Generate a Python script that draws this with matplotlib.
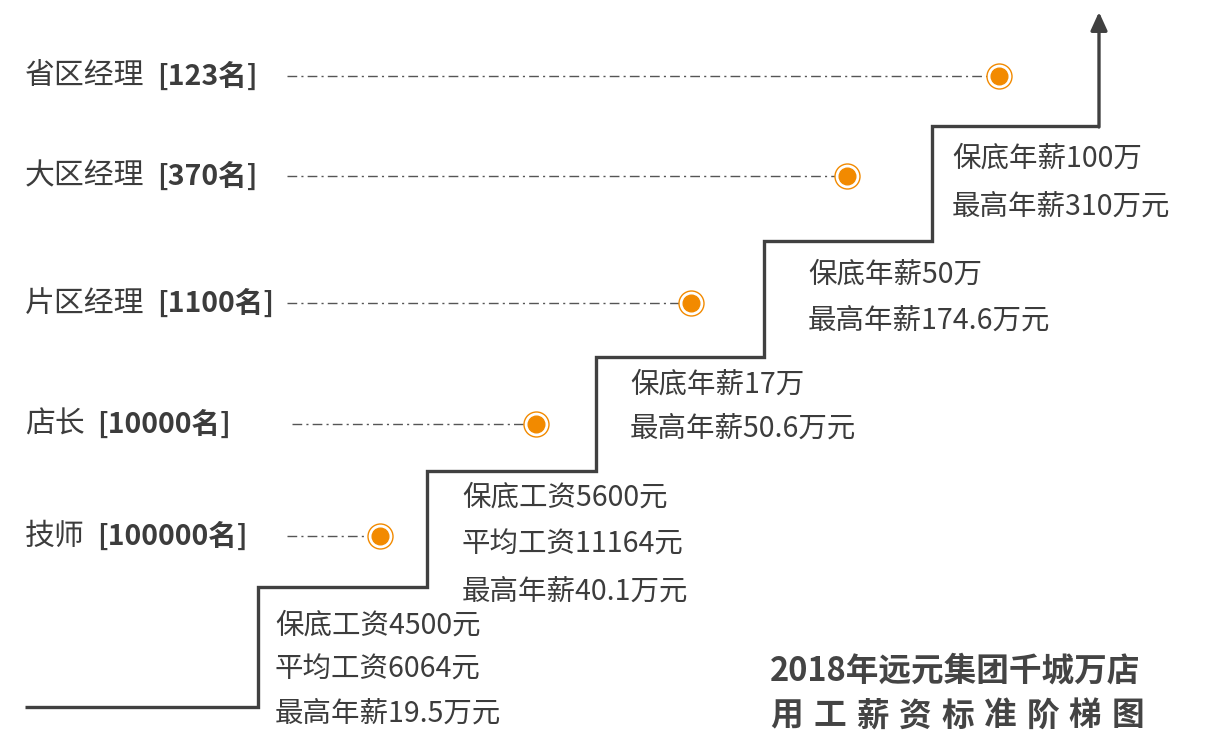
import matplotlib
matplotlib.use('Agg')
import matplotlib.pyplot as plt
from matplotlib.patches import FancyArrowPatch

plt.rcParams['font.family'] = ['Noto Sans CJK SC', 'DejaVu Sans']

# staircase (pixel grid of the reference, y grows downward)
step_x = [25, 258, 427, 596, 764, 932, 1099]
step_y = [707, 587, 471, 357, 241, 126]
arrow_top = 12

# position levels
roles = ['技师', '店长', '片区经理', '大区经理', '省区经理']
counts = ['[100000名]', '[10000名]', '[1100名]', '[370名]', '[123名]']
role_y = [536, 424, 303, 176, 76]
lead_x0 = [287, 292, 287, 287, 287]
dot_x = [380, 536, 691, 847, 999]

# salary notes on each step
notes = [
    ['保底工资4500元', '平均工资6064元', '最高年薪19.5万元'],
    ['保底工资5600元', '平均工资11164元', '最高年薪40.1万元'],
    ['保底年薪17万', '最高年薪50.6万元'],
    ['保底年薪50万', '最高年薪174.6万元'],
    ['保底年薪100万', '最高年薪310万元'],
]
note_x = [275, 462, 630, 808, 952]
note_y0 = [626, 498, 385, 275, 159]
note_gap = [44, 47, 44, 46, 48]

title1 = '2018年远元集团千城万店'
title2 = '用工薪资标准阶梯图'

TXT = '#3c3c3c'
ORANGE = '#f28a00'


def main():
    fig = plt.figure(figsize=(12.13, 7.34), dpi=100)
    ax = fig.add_axes([0, 0, 1, 1])
    ax.set_xlim(0, 1213)
    ax.set_ylim(734, 0)
    ax.axis('off')

    # stair line
    xs, ys = [step_x[0]], [step_y[0]]
    for i in range(len(step_y)):
        xs.append(step_x[i + 1]); ys.append(step_y[i])
        if i + 1 < len(step_y):
            xs.append(step_x[i + 1]); ys.append(step_y[i + 1])
    ax.plot(xs, ys, color='#404040', lw=2.4, solid_joinstyle='miter', solid_capstyle='butt')
    ax.add_patch(FancyArrowPatch((step_x[-1], step_y[-1] + 1), (step_x[-1], arrow_top),
                                 arrowstyle='-|>,head_length=0.55,head_width=0.25',
                                 mutation_scale=20, color='#404040', lw=2.4,
                                 shrinkA=0, shrinkB=0))

    # role labels, leaders and dots
    for r, c, y, x0, xd in zip(roles, counts, role_y, lead_x0, dot_x):
        t = ax.text(25, y, r, fontsize=21.5, color=TXT, va='center', ha='left')
        ax.annotate(c, xy=(1, 0.5), xycoords=t, xytext=(9, 0), textcoords='offset points',
                    fontsize=20.5, fontweight='bold', color=TXT, va='center', ha='left')
        ax.plot([x0, xd], [y, y], color='#555555', lw=1.0,
                dashes=(7, 3, 1.5, 3))
        ax.plot(xd, y, 'o', ms=18, mfc='white', mec=ORANGE, mew=1.0)
        ax.plot(xd, y, 'o', ms=12, color=ORANGE)

    # salary notes
    for lines, x, y0, g in zip(notes, note_x, note_y0, note_gap):
        for k, s in enumerate(lines):
            ax.text(x, y0 + k * g, s, fontsize=20.5, color=TXT, va='center', ha='left')

    ax.text(770, 671, title1, fontsize=23.5, fontweight='bold', color='#444444',
            va='center', ha='left')
    # second title line is spread out to the width of the first
    pitch = 42.6
    for i, ch in enumerate(title2):
        ax.text(787 + i * pitch, 716, ch, fontsize=23.5, fontweight='bold', color='#444444',
                va='center', ha='center')

    fig.savefig('out.png', dpi=100)


if __name__ == '__main__':
    main()
